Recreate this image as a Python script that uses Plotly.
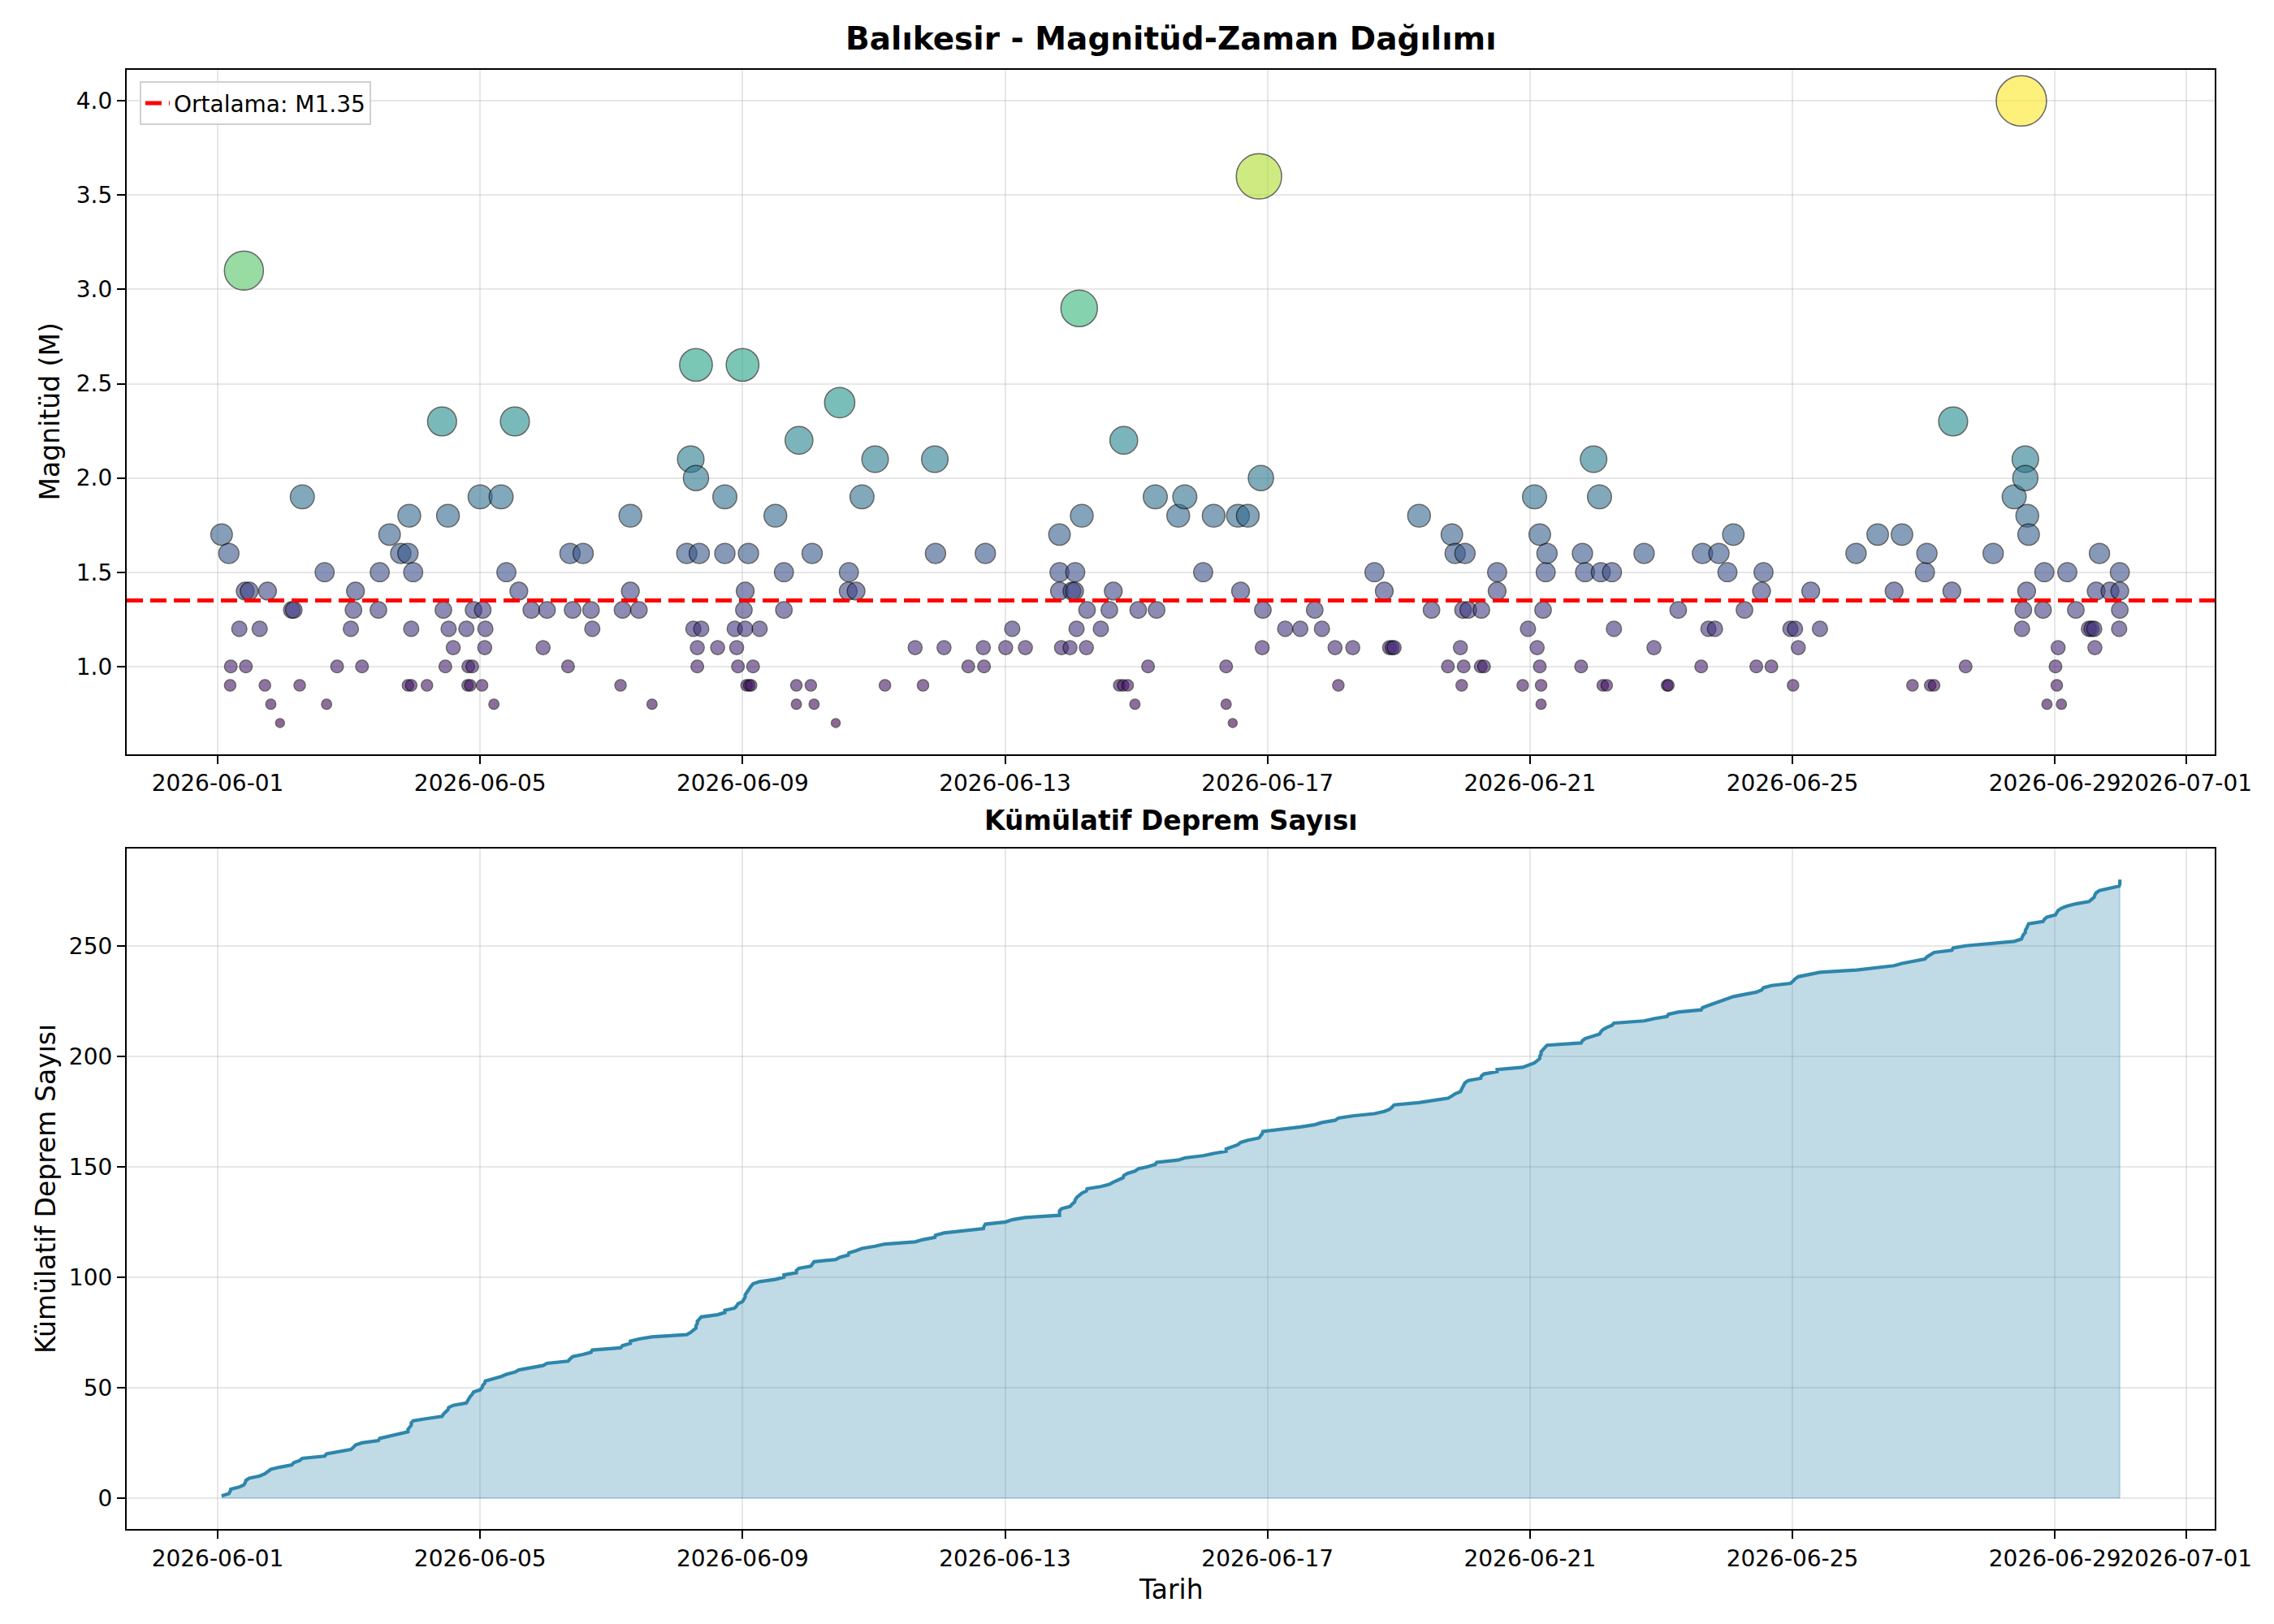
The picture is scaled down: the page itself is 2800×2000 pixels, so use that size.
import numpy as np
import pandas as pd
import plotly.graph_objects as go

# ---------------- data ----------------
start_date = "2026-06-01"

# event time, in days after 2026-06-01 00:00
event_days = [
    0.06, 0.17, 0.19, 0.20, 0.33, 0.40, 0.42, 0.43, 0.48, 0.64, 0.72, 0.76, 0.81, 0.95,
    1.13, 1.16, 1.25, 1.29, 1.63, 1.66, 1.82, 2.03, 2.07, 2.10, 2.20, 2.45, 2.47, 2.62,
    2.79, 2.90, 2.90, 2.92, 2.95, 2.95, 2.98, 3.19, 3.42, 3.44, 3.47, 3.51, 3.52, 3.59,
    3.79, 3.81, 3.82, 3.85, 3.88, 3.90, 4.00, 4.03, 4.04, 4.07, 4.08, 4.21, 4.32, 4.40,
    4.53, 4.59, 4.78, 4.96, 5.02, 5.34, 5.37, 5.41, 5.57, 5.69, 5.71, 6.14, 6.17, 6.29,
    6.29, 6.42, 6.62, 7.15, 7.21, 7.25, 7.29, 7.29, 7.31, 7.31, 7.34, 7.37,
    7.62, 7.73, 7.73, 7.88, 7.91, 7.93, 8.00, 8.02, 8.04, 8.04, 8.06, 8.09, 8.10, 8.13,
    8.16, 8.26, 8.50, 8.63, 8.63, 8.82, 8.82, 8.86, 9.04, 9.06, 9.09, 9.42, 9.48, 9.61,
    9.62, 9.73, 9.82, 10.02, 10.17, 10.63, 10.75, 10.93, 10.94, 11.07,
    11.44, 11.67, 11.68, 11.70, 12.01, 12.11, 12.31, 12.83, 12.83, 12.83, 12.86, 12.99,
    13.02, 13.06, 13.07, 13.09, 13.13, 13.17, 13.24, 13.25, 13.46, 13.59, 13.65, 13.74,
    13.80, 13.81, 13.87, 13.98, 14.03, 14.18, 14.29, 14.31, 14.64, 14.74,
    15.02, 15.18, 15.37, 15.37, 15.47, 15.55, 15.59, 15.70, 15.87, 15.90, 15.92, 15.93,
    16.27, 16.50, 16.72, 16.83, 17.03, 17.08, 17.30, 17.63, 17.78, 17.86, 17.90, 17.93,
    18.31, 18.50,
    18.75, 18.81, 18.86, 18.94, 18.96, 18.98, 18.99, 19.01, 19.06, 19.25, 19.26, 19.30,
    19.50, 19.50, 19.89, 19.97, 20.07, 20.11, 20.15, 20.15, 20.17, 20.17, 20.20, 20.24,
    20.26, 20.78, 20.80, 20.84, 20.97, 21.06, 21.08, 21.11, 21.17, 21.25, 21.28, 21.74,
    21.89, 22.09, 22.11, 22.26,
    22.61, 22.63, 22.72, 22.82, 22.88, 23.01, 23.10, 23.27, 23.45, 23.53, 23.56, 23.68,
    23.97, 24.01, 24.04, 24.09, 24.28, 24.42, 24.97, 25.30, 25.55, 25.67, 25.83,
    26.02, 26.05, 26.10, 26.16, 26.43, 26.45, 26.64, 27.06, 27.38, 27.49, 27.50, 27.52,
    27.55, 27.55, 27.57, 27.58, 27.60, 27.82, 27.84, 27.88, 28.01, 28.03, 28.05, 28.10,
    28.19, 28.32, 28.52, 28.56, 28.60, 28.61, 28.63, 28.68, 28.84, 28.98, 28.99, 28.99,
    28.99,
]

magnitudes = [
    1.7, 1.6, 0.9, 1.0, 1.2, 3.1, 1.4, 1.0, 1.4, 1.2, 0.9, 1.4, 0.8, 0.7,
    1.3, 1.3, 0.9, 1.9, 1.5, 0.8, 1.0, 1.2, 1.3, 1.4, 1.0, 1.3, 1.5, 1.7,
    1.6, 1.6, 0.9, 1.8, 1.2, 0.9, 1.5, 0.9, 2.3, 1.3, 1.0, 1.8, 1.2, 1.1,
    1.2, 0.9, 1.0, 0.9, 1.0, 1.3, 1.9, 0.9, 1.3, 1.1, 1.2, 0.8, 1.9, 1.5,
    2.3, 1.4, 1.3, 1.1, 1.3, 1.0, 1.6, 1.3, 1.6, 1.3, 1.2, 0.9, 1.3, 1.8,
    1.4, 1.3, 0.8, 1.6, 2.1, 1.2, 2.6, 2.0, 1.1, 1.0, 1.6, 1.2,
    1.1, 1.9, 1.6, 1.2, 1.1, 1.0, 2.6, 1.3, 1.4, 1.2, 0.9, 1.6, 0.9, 0.9,
    1.0, 1.2, 1.8, 1.5, 1.3, 0.9, 0.8, 2.2, 0.9, 1.6, 0.8, 0.7, 2.4, 1.4,
    1.5, 1.4, 1.9, 2.1, 0.9, 1.1, 0.9, 2.1, 1.6, 1.1,
    1.0, 1.1, 1.0, 1.6, 1.1, 1.2, 1.1, 1.7, 1.5, 1.4, 1.1, 1.1,
    1.4, 1.4, 1.5, 1.2, 2.9, 1.8, 1.1, 1.3, 1.2, 1.3, 1.4, 0.9,
    0.9, 2.2, 0.9, 0.8, 1.3, 1.0, 1.9, 1.3, 1.8, 1.9,
    1.5, 1.8, 1.0, 0.8, 0.7, 1.8, 1.4, 1.8, 3.6, 2.0, 1.1, 1.3,
    1.2, 1.2, 1.3, 1.2, 1.1, 0.9, 1.1, 1.5, 1.4, 1.1, 1.1, 1.1,
    1.8, 1.3,
    1.0, 1.7, 1.6, 1.1, 0.9, 1.3, 1.0, 1.6, 1.3, 1.0, 1.3, 1.0,
    1.5, 1.4, 0.9, 1.2, 1.9, 1.1, 1.7, 1.0, 0.9, 0.8, 1.3, 1.5,
    1.6, 1.0, 1.6, 1.5, 2.1, 1.9, 1.5, 0.9, 0.9, 1.5, 1.2, 1.6,
    1.1, 0.9, 0.9, 1.3,
    1.0, 1.6, 1.2, 1.2, 1.6, 1.5, 1.7, 1.3, 1.0, 1.4, 1.5, 1.0,
    1.2, 0.9, 1.2, 1.1, 1.4, 1.2, 1.6, 1.7, 1.4, 1.7, 0.9,
    1.5, 1.6, 0.9, 0.9, 1.4, 2.3, 1.0, 1.6, 1.9, 4.0, 1.2, 1.3,
    2.1, 2.0, 1.4, 1.8, 1.7, 1.3, 1.5, 0.8, 1.0, 0.9, 1.1, 0.8,
    1.5, 1.3, 1.2, 1.2, 1.2, 1.1, 1.4, 1.6, 1.4, 1.2, 1.3, 1.4,
    1.5,
]

mean_magnitude = 1.35
mean_label = "Ortalama: M1.35"
x_tick_dates = ["2026-06-01", "2026-06-05", "2026-06-09", "2026-06-13", "2026-06-17",
                "2026-06-21", "2026-06-25", "2026-06-29", "2026-07-01"]
mag_ticks = [1.0, 1.5, 2.0, 2.5, 3.0, 3.5, 4.0]
count_ticks = [0, 50, 100, 150, 200, 250]

title_top = "Balıkesir - Magnitüd-Zaman Dağılımı"
title_bottom = "Kümülatif Deprem Sayısı"
ylabel_top = "Magnitüd (M)"
ylabel_bottom = "Kümülatif Deprem Sayısı"
xlabel = "Tarih"

# ---------------- preparation ----------------
order = np.argsort(np.array(event_days), kind="stable")
days = np.array(event_days)[order]
mags = np.array(magnitudes)[order]
times = pd.Timestamp(start_date) + pd.to_timedelta(days, unit="D")
cum = np.arange(1, len(times) + 1)

span = times.max() - times.min()
x_range = [times.min() - 0.05 * span, times.max() + 0.05 * span]
x_range_s = [t.strftime("%Y-%m-%d %H:%M:%S") for t in x_range]

m_span = mags.max() - mags.min()
y1_range = [mags.min() - 0.05 * m_span, mags.max() + 0.05 * m_span]
y2_range = [-0.05 * cum.max(), 1.05 * cum.max()]

FONT = "DejaVu Sans"
TICK = 28
LABEL = 33

fig = go.Figure()

# scatter: magnitude vs time
fig.add_trace(go.Scatter(
    x=times, y=mags, mode="markers", xaxis="x", yaxis="y", showlegend=False,
    marker=dict(size=15.5 * mags, color=mags, colorscale="Viridis",
                cmin=mags.min(), cmax=mags.max(), opacity=0.6,
                line=dict(color="black", width=1.5)),
))

# mean line
fig.add_trace(go.Scatter(
    x=x_range, y=[mean_magnitude, mean_magnitude], mode="lines", name=mean_label,
    xaxis="x", yaxis="y", line=dict(color="red", width=5, dash="20px,9px"),
))

# cumulative fill polygon
poly_x = list(times) + [times[-1], times[0]]
poly_y = list(cum) + [0, 0]
fig.add_trace(go.Scatter(
    x=poly_x, y=poly_y, mode="lines", fill="toself", xaxis="x2", yaxis="y2",
    fillcolor="rgba(46,134,171,0.3)", line=dict(color="rgba(46,134,171,0.3)", width=1.4),
    showlegend=False,
))
fig.add_trace(go.Scatter(
    x=times, y=cum, mode="lines", xaxis="x2", yaxis="y2", showlegend=False,
    line=dict(color="#2E86AB", width=4.2),
))

axis_common = dict(
    showline=True, linecolor="black", linewidth=2.2, mirror=True,
    ticks="outside", ticklen=10, tickwidth=2.2, tickcolor="black",
    showgrid=True, gridcolor="rgba(176,176,176,0.3)", gridwidth=2.2,
    zeroline=False, tickfont=dict(family=FONT, size=TICK, color="black"),
)
xaxis_common = dict(
    type="date", range=x_range_s, tickvals=x_tick_dates, ticktext=x_tick_dates,
    tickangle=0, **axis_common,
)

top_dom = [0.531, 1.0]
bot_dom = [0.0, 0.4663]

fig.update_layout(
    width=2800, height=2000,
    margin=dict(l=148, r=81, t=78, b=125),
    paper_bgcolor="white", plot_bgcolor="white",
    font=dict(family=FONT, color="black"),
    xaxis=dict(domain=[0, 1], anchor="y", **xaxis_common),
    yaxis=dict(domain=top_dom, anchor="x", range=y1_range, tickvals=mag_ticks,
               tickformat=".1f", **axis_common),
    xaxis2=dict(domain=[0, 1], anchor="y2", **xaxis_common),
    yaxis2=dict(domain=bot_dom, anchor="x2", range=y2_range, tickvals=count_ticks,
                **axis_common),
    showlegend=True,
    legend=dict(x=0.0062, y=0.992, xanchor="left", yanchor="top",
                bgcolor="rgba(255,255,255,0.8)", bordercolor="#d0d0d0", borderwidth=2,
                font=dict(family=FONT, size=TICK, color="black")),
    annotations=[
        dict(text=f"<b>{title_top}</b>", xref="paper", yref="paper", x=0.5, y=top_dom[1],
             xanchor="center", yanchor="bottom", yshift=14, showarrow=False,
             font=dict(family=FONT, size=39, color="black")),
        dict(text=f"<b>{title_bottom}</b>", xref="paper", yref="paper", x=0.5, y=bot_dom[1],
             xanchor="center", yanchor="bottom", yshift=13, showarrow=False,
             font=dict(family=FONT, size=LABEL, color="black")),
        dict(text=ylabel_top, xref="paper", yref="paper", x=0, y=sum(top_dom) / 2,
             xanchor="center", yanchor="middle", xshift=-95, textangle=-90, showarrow=False,
             font=dict(family=FONT, size=LABEL, color="black")),
        dict(text=ylabel_bottom, xref="paper", yref="paper", x=0, y=sum(bot_dom) / 2,
             xanchor="center", yanchor="middle", xshift=-100, textangle=-90, showarrow=False,
             font=dict(family=FONT, size=LABEL, color="black")),
        dict(text=xlabel, xref="paper", yref="paper", x=0.5, y=0,
             xanchor="center", yanchor="middle", yshift=-74, showarrow=False,
             font=dict(family=FONT, size=LABEL, color="black")),
    ],
)

fig.write_html("out.html")
